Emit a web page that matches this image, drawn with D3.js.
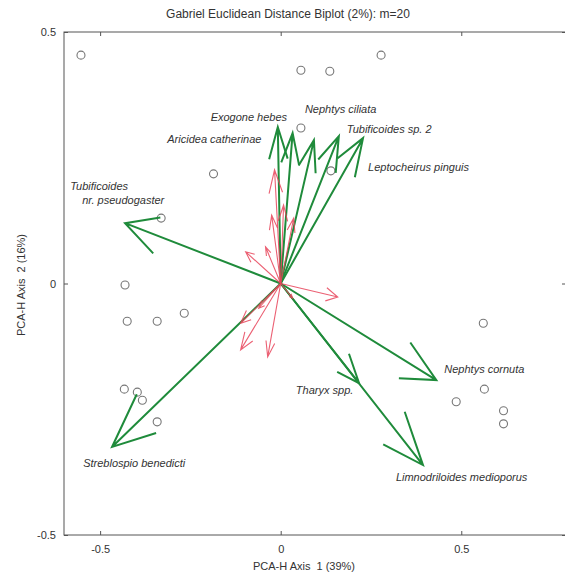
<!DOCTYPE html>
<html>
<head>
<meta charset="utf-8">
<script src="https://cdn.jsdelivr.net/npm/d3@7"></script>
<style>
  body { margin: 0; background: #fff; }
  svg { font-family: "Liberation Sans", Arial, sans-serif; }
</style>
</head>
<body>
<div id="chart"></div>
<script>
// sample scores (PCA-H axis 1, axis 2)
const sitesX = [-0.553, 0.056, 0.136, 0.278, 0.056, 0.139, -0.186, -0.331, -0.431, -0.425, -0.342,
  -0.267, -0.433, -0.397, -0.383, -0.342, 0.561, 0.564, 0.486, 0.617, 0.617];
const sitesY = [0.454, 0.424, 0.422, 0.454, 0.309, 0.224, 0.218, 0.130, -0.003, -0.075, -0.075,
  -0.059, -0.210, -0.216, -0.232, -0.275, -0.079, -0.210, -0.235, -0.253, -0.279];

// species shown with names (green vectors)
const speciesNames = ["Exogone hebes", "Aricidea catherinae", "Nephtys ciliata", "Tubificoides sp. 2",
  "Leptocheirus pinguis", "Tubificoides\nnr. pseudogaster", "Streblospio benedicti", "Nephtys cornuta",
  "Tharyx spp.", "Limnodriloides medioporus"];
const speciesX = [-0.008, 0.033, 0.092, 0.161, 0.228, -0.431, -0.467, 0.431, 0.217, 0.394];
const speciesY = [0.311, 0.299, 0.285, 0.293, 0.289, 0.120, -0.325, -0.192, -0.198, -0.361];
// where each name sits (start of text, baseline), in axis units
const labelX = [-0.194, -0.314, 0.067, 0.183, 0.242, -0.583, -0.547, 0.453, 0.042, 0.319];
const labelY = [0.323, 0.279, 0.339, 0.299, 0.224, 0.186, -0.365, -0.178, -0.219, -0.392];

// remaining species (red vectors, unlabelled)
const minorX = [-0.017, 0.008, -0.025, 0.036, -0.042, -0.097, 0.158, -0.111, -0.111, -0.036, -0.061, 0.033];
const minorY = [0.226, 0.156, 0.136, 0.130, 0.073, 0.063, -0.027, -0.079, -0.132, -0.146, -0.049, -0.029];

const ticks = [-0.5, 0, 0.5];

const width = 565;
const height = 575;

const x = d3.scaleLinear().domain([-0.6, 0.79]).range([64, 566]);
const y = d3.scaleLinear().domain([-0.5, 0.5]).range([535, 32]);

const svg = d3
  .select("#chart")
  .append("svg")
  .attr("width", width)
  .attr("height", height);

// frame
svg
  .append("rect")
  .attr("x", x.range()[0])
  .attr("y", y.range()[1])
  .attr("width", x.range()[1] - x.range()[0])
  .attr("height", y.range()[0] - y.range()[1])
  .attr("fill", "none")
  .attr("stroke", "#555")
  .attr("stroke-width", 1);

const fmt = (d) => String(d);
const axisBottom = d3.axisBottom(x).tickValues(ticks).tickSize(-4).tickPadding(10).tickFormat(fmt);
const axisTop = d3.axisTop(x).tickValues(ticks).tickSize(-4).tickFormat("");
const axisLeft = d3.axisLeft(y).tickValues(ticks).tickSize(-4).tickPadding(8).tickFormat(fmt);
const axisRight = d3.axisRight(y).tickValues(ticks).tickSize(-4).tickFormat("");

const styleAxis = (g) => {
  g.select(".domain").remove();
  g.selectAll("line").attr("stroke", "#555");
  g.selectAll("text").attr("fill", "#333").style("font-size", "11px");
};

svg.append("g").attr("transform", `translate(0,${y.range()[0]})`).call(axisBottom).call(styleAxis);
svg.append("g").attr("transform", `translate(0,${y.range()[1]})`).call(axisTop).call(styleAxis);
svg.append("g").attr("transform", `translate(${x.range()[0]},0)`).call(axisLeft).call(styleAxis);
svg.append("g").attr("transform", `translate(${x.range()[1]},0)`).call(axisRight).call(styleAxis);

// titles
svg
  .append("text")
  .attr("x", 288)
  .attr("y", 18)
  .attr("text-anchor", "middle")
  .attr("fill", "#333")
  .style("font-size", "12px")
  .text("Gabriel Euclidean Distance Biplot (2%): m=20");

svg
  .append("text")
  .attr("x", 304)
  .attr("y", 570)
  .attr("text-anchor", "middle")
  .attr("fill", "#333")
  .style("font-size", "11px")
  .attr("xml:space", "preserve")
  .text("PCA-H Axis  1 (39%)");

svg
  .append("text")
  .attr("transform", "translate(25,285) rotate(-90)")
  .attr("text-anchor", "middle")
  .attr("fill", "#333")
  .style("font-size", "11px")
  .attr("xml:space", "preserve")
  .text("PCA-H Axis  2 (16%)");

// arrow path: shaft from origin + open head, head built in axis units
const line = d3.line().x((p) => x(p[0])).y((p) => y(p[1]));
const arrowPath = (ex, ey) => {
  const len = Math.hypot(ex, ey);
  const h = 0.22 * len;
  const back = Math.atan2(ey, ex) + Math.PI;
  const spread = (22 * Math.PI) / 180;
  const b1 = [ex + h * Math.cos(back + spread), ey + h * Math.sin(back + spread)];
  const b2 = [ex + h * Math.cos(back - spread), ey + h * Math.sin(back - spread)];
  return line([[0, 0], [ex, ey]]) + line([b1, [ex, ey], b2]);
};

const plot = svg.append("g");

// sites
plot
  .append("g")
  .selectAll("circle")
  .data(sitesX.map((d, i) => [d, sitesY[i]]))
  .join("circle")
  .attr("cx", (d) => x(d[0]))
  .attr("cy", (d) => y(d[1]))
  .attr("r", 4)
  .attr("fill", "none")
  .attr("stroke", "#777")
  .attr("stroke-width", 1.1);

// named species
plot
  .append("g")
  .attr("fill", "none")
  .attr("stroke", "#1f8b3b")
  .attr("stroke-width", 2)
  .selectAll("path")
  .data(speciesX.map((d, i) => [d, speciesY[i]]))
  .join("path")
  .attr("d", (d) => arrowPath(d[0], d[1]));

// other species
plot
  .append("g")
  .attr("fill", "none")
  .attr("stroke", "#e8445a")
  .attr("stroke-width", 1.1)
  .attr("stroke-opacity", 0.85)
  .selectAll("path")
  .data(minorX.map((d, i) => [d, minorY[i]]))
  .join("path")
  .attr("d", (d) => arrowPath(d[0], d[1]));

// species names
const labels = plot
  .append("g")
  .attr("fill", "#333")
  .style("font-size", "11px")
  .style("font-style", "italic")
  .selectAll("text")
  .data(speciesNames.map((name, i) => ({ name, lx: labelX[i], ly: labelY[i] })))
  .join("text")
  .attr("x", (d) => x(d.lx))
  .attr("y", (d) => y(d.ly));

labels
  .selectAll("tspan")
  .data((d) => d.name.split("\n").map((t, j) => ({ t, j, lx: d.lx })))
  .join("tspan")
  .attr("x", (d) => x(d.lx) + (d.j ? 12 : 0))
  .attr("dy", (d) => (d.j ? 14 : 0))
  .text((d) => d.t);
</script>
</body>
</html>
